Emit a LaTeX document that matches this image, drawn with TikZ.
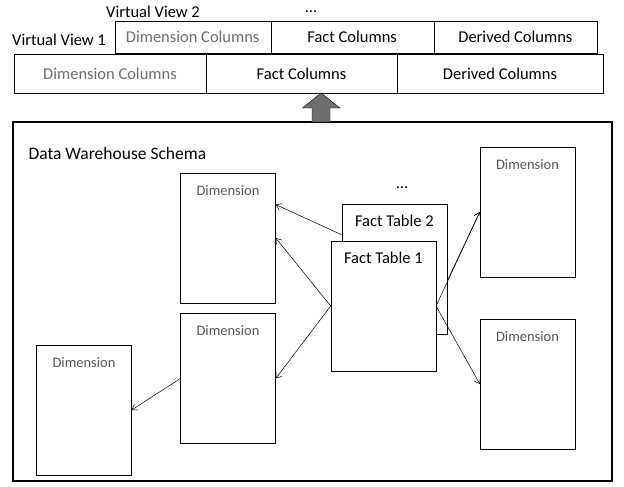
\documentclass[tikz,border=0pt]{standalone}
\usepackage{fontspec}
\setmainfont{Carlito}
\usetikzlibrary{positioning, arrows.meta}
\definecolor{dimgray}{RGB}{89,89,89}
\definecolor{colgray}{RGB}{110,110,110}
\tikzstyle{cell}=[draw, outer sep=0pt, inner sep=0pt, minimum height=39pt, font=\fontsize{16.5}{18}\selectfont]
\tikzstyle{tcell}=[cell, minimum height=32pt]
\tikzstyle{dim}=[draw, fill=white, inner sep=0pt, minimum width=95pt, minimum height=130pt,
  label={[anchor=north, yshift=-9pt, text=dimgray, font=\fontsize{14.5}{16}\selectfont]north:Dimension}]
\tikzstyle{fact}=[draw, fill=white, inner sep=0pt, minimum width=105pt, minimum height=130pt]
\tikzstyle{link}=[->, >={Straight Barb[length=5pt, width=7pt]}, line width=0.5pt]

\begin{document}
\begin{tikzpicture}[x=1pt, y=-1pt]
    \useasboundingbox (0,0) rectangle (624,487);
        % virtual view 2
        \node[tcell, minimum width=156pt, text=colgray] (w2dim) at (192.7, 37) {Dimension Columns};
        \node[tcell, minimum width=163pt] (w2fact) at (352.2, 37) {Fact Columns};
        \node[tcell, minimum width=163pt] (w2der) at (515.4, 37) {Derived Columns};
        \node[font=\fontsize{16.5}{18}\selectfont] (w2lab) at (153, 12) {Virtual View 2};
        \node[font=\fontsize{16.5}{18}\selectfont] (wdots) at (311, 12) {...};
        % virtual view 1
        \node[cell, minimum width=192pt, text=colgray] (w1dim) at (110, 73.5) {Dimension Columns};
        \node[cell, minimum width=191pt] (w1fact) at (301.5, 73.5) {Fact Columns};
        \node[cell, minimum width=206pt] (w1der) at (500, 73.5) {Derived Columns};
        \node[font=\fontsize{16.5}{18}\selectfont] (w1lab) at (59, 40) {Virtual View 1};
        % schema
        \node[draw, line width=1.2pt, minimum width=599pt, minimum height=359pt] (dws) at (312.5, 301.5) {};
        \node[anchor=base west, font=\fontsize{17.5}{20}\selectfont] (title) at (25, 159) {Data Warehouse Schema};
        \draw[fill=colgray] (321, 93) -- (340, 108) -- (330, 108) -- (330, 122)
            -- (312, 122) -- (312, 108) -- (302.5, 108) -- cycle;
        \node[dim] (d1) at (228, 238) {};
        \node[dim] (d2) at (228, 378.5) {};
        \node[dim] (d3) at (84, 410) {};
        \node[dim] (d4) at (527.5, 212) {};
        \node[dim] (d5) at (527.5, 384) {};
        \node[font=\fontsize{16.5}{18}\selectfont] (fdots) at (402, 188) {...};
        \node[fact] (ft2) at (394.4, 269) {};
        \node[anchor=north, font=\fontsize{16.5}{18}\selectfont] (ft2lab) at ([yshift=-8pt]ft2.north) {Fact Table 2};
        \node[fact] (ft1) at (383.4, 306) {};
        \node[anchor=north, font=\fontsize{16.5}{18}\selectfont] (ft1lab) at ([yshift=-8pt]ft1.north) {Fact Table 1};
        % references
        \draw[link] (ft2.147) -- (d1.35);
        \draw[link] (ft1.west) -- (d1.east);
        \draw[link] (ft1.west) -- (d2.east);
        \draw[link] (d2.west) -- (d3.east);
        \draw[link] (ft1.east) -- (d4.west);
        \draw[link] (ft2.-13) -- (d4.west);
        \draw[link] (ft1.east) -- (d5.west);
    \end{tikzpicture}
\end{document}
